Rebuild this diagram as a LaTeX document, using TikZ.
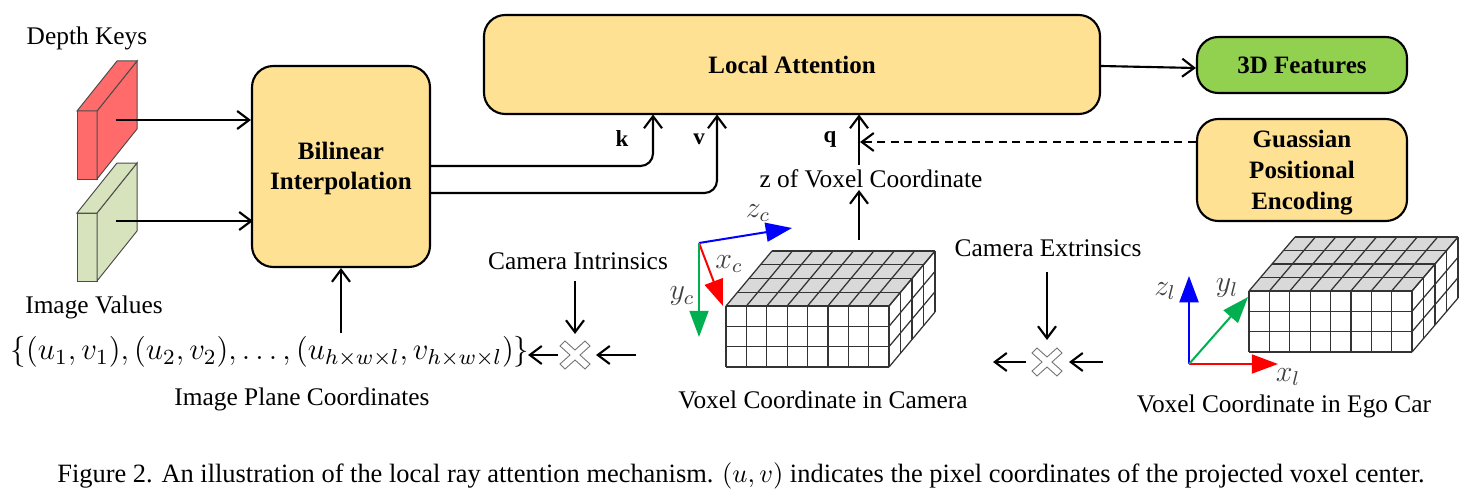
\RequirePackage{fix-cm}
\documentclass[tikz,border=0pt]{standalone}
\usepackage{fontspec}
\usepackage{amsmath}
\setmainfont{Liberation Serif}
\usetikzlibrary{arrows.meta,calc}
\definecolor{boxy}{HTML}{FFE194}
\definecolor{boxg}{HTML}{92D050}
\definecolor{cred}{HTML}{FF6B6B}
\definecolor{cgreen}{HTML}{D7E3BC}
\definecolor{axg}{HTML}{00B050}
\definecolor{topg}{HTML}{D9D9D9}
\tikzset{
  x=0.4pt,y=-0.4pt,
  box/.style={draw=black,line width=0.85pt,fill=boxy,rounded corners=8.5pt,inner sep=0pt},
  boxtext/.style={inner sep=0pt,align=center,font=\fontsize{10}{12}\selectfont\bfseries},
  lbl/.style={inner sep=0pt,align=center,font=\fontsize{10.15}{12}\selectfont},
  arr/.style={draw=black,line width=0.85pt,-{Straight Barb[length=4.8pt,width=7.2pt,line width=0.85pt]}},
  feat/.style={draw=black!70,line width=0.4pt},
  ax/.style={line width=0.8pt,-{Triangle[length=10.5pt,width=7.6pt]}},
  mathl/.style={inner sep=0pt,font=\fontsize{12}{14}\selectfont,text=black!75},
  grid/.style={draw=black!80,line width=0.5pt},
  crossmark/.style={draw=black!55,line width=0.35pt,fill=white}
}
\newcommand{\voxel}[4]{% x0 y0 (front top-left) dx dy of depth
  \def\fx{#1}\def\fy{#2}\def\ox{#3}\def\oy{#4}
  \fill[topg] (\fx,\fy) -- ++(163,0) -- ++(\ox,\oy) -- ++(-163,0) -- cycle;
  \foreach \i in {0,...,8}{\draw[grid] ({\fx+\i*163/8},\fy) -- ++({\ox},{\oy});
    \draw[grid] ({\fx+\i*163/8},\fy) -- ++(0,61);}
  \foreach \j in {1,...,4}{\draw[grid] ({\fx+\j*\ox/4},{\fy+\j*\oy/4}) -- ++(163,0);
    \draw[grid] ({\fx+163+\j*\ox/4},{\fy+\j*\oy/4}) -- ++(0,61);}
  \foreach \j in {0,...,3}{\draw[grid] (\fx,{\fy+\j*61/3}) -- ++(163,0);
    \draw[grid] ({\fx+163},{\fy+\j*61/3}) -- ++({\ox},{\oy});}
}
\newcommand{\cuboid}[2]{% top-of-front y, fill
  \filldraw[feat,fill=#2] (77,#1) -- (97,#1) -- (97,{#1+68}) -- (77,{#1+68}) -- cycle;
  \filldraw[feat,fill=#2] (97,#1) -- (137,{#1-50}) -- (137,{#1+18}) -- (97,{#1+68}) -- cycle;
  \filldraw[feat,fill=#2] (77,#1) -- (117,{#1-50}) -- (137,{#1-50}) -- (97,#1) -- cycle;
}
\newcommand{\crossat}[2]{%
  \filldraw[crossmark,shift={(#1,#2)}] (-10,-14) -- (0,-5) -- (10,-14) -- (15,-9) -- (5,0) -- (15,9) -- (10,14) -- (0,5) -- (-10,14) -- (-15,9) -- (-5,0) -- (-15,-9) -- cycle;
}
\begin{document}
\begin{tikzpicture}
\useasboundingbox (0,0) rectangle (1484,499);
% feature blocks
\cuboid{111}{cred}
\cuboid{213}{cgreen}
\coordinate (redc) at (116,120);
\coordinate (grnc) at (116,221);
% boxes
\node[box,minimum width=71.2pt,minimum height=80.4pt] (bil) at (341,166.5) {};
\node[boxtext] (bilt) at (341,168.5) {Bilinear\\Interpolation};
\node[box,minimum width=246.4pt,minimum height=39.6pt] (att) at (792,64.5) {};
\node[boxtext] (attt) at (792,64.5) {Local Attention};
\node[box,fill=boxg,minimum width=84pt,minimum height=22.4pt] (feat3d) at (1302,65) {};
\node[boxtext] (featt) at (1302,65) {3D Features};
\node[box,minimum width=84pt,minimum height=40.8pt] (gpe) at (1302,170) {};
\node[boxtext] (gpet) at (1302,173) {Guassian\\[0.4pt]Positional\\[0.4pt]Encoding};
% labels
\node[lbl] (dk) at (87,38) {Depth Keys};
\node[lbl] (iv) at (94,307) {Image Values};
\node[lbl] (ipc) at (302,399) {Image Plane Coordinates};
\node[lbl] (vcc) at (823,400) {Voxel Coordinate in Camera};
\node[lbl] (vce) at (1284,406) {Voxel Coordinate in Ego Car};
\node[lbl] (ci) at (578,261) {Camera Intrinsics};
\node[lbl] (ce) at (1048,248) {Camera Extrinsics};
\node[lbl] (zv) at (871,179) {z of Voxel Coordinate};
\node[lbl,font=\bfseries\fontsize{9.2}{11}\selectfont] (k) at (622,139) {k};
\node[lbl,font=\bfseries\fontsize{9.2}{11}\selectfont] (v) at (699,139) {v};
\node[lbl,font=\bfseries\fontsize{9.2}{11}\selectfont] (q) at (830,139) {q};
\node[lbl,font=\fontsize{12.35}{15}\selectfont] (set) at (270,352) {$\{(u_1,v_1),(u_2,v_2),\ldots,(u_{h\times w\times l},v_{h\times w\times l})\}$};
\node[lbl,font=\fontsize{10.57}{12}\selectfont] (cap) at (741,476) {Figure 2. An illustration of the local ray attention mechanism. $(u,v)$ indicates the pixel coordinates of the projected voxel center.};
% connectors
\draw[arr] (redc) -- (redc -| bil.west);
\draw[arr] (grnc) -- ($(grnc -| bil.west)+(2,0)$);
\coordinate (setup) at (341,333);
\draw[arr] (setup) -- (bil.south);
\coordinate (o1) at (430,166);
\coordinate (o2) at (430,193);
\coordinate (i1) at (653,114.5);
\coordinate (i2) at (717,114.5);
\draw[arr,rounded corners=5pt] (o1) -- (o1 -| i1) -- (i1);
\draw[arr,rounded corners=5pt] (o2) -- (o2 -| i2) -- (i2);
\coordinate (i3) at (859,114.5);
\coordinate (vt) at (859,240);
\draw[arr] (859,165) -- (i3);
\draw[arr] (vt) -- (859,190);
\draw[arr,dash pattern=on 3.2pt off 2.2pt] (gpe.west |- 0,142) -- (860,142);
\draw[arr] ($(att.east)+(0,1.5)$) -- ($(feat3d.west)+(0,3)$);
% crosses
\crossat{575}{355}
\crossat{1047}{362}
\draw[arr] (575,281) -- (575,334);
\draw[arr] (636,355) -- (596,355);
\draw[arr] (558,355) -- (528,355);
\draw[arr] (1047,272) -- (1047,340);
\draw[arr] (1103,362) -- (1069,362);
\draw[arr] (1026,362) -- (993,362);
% voxel grids
\voxel{726}{306}{46}{-55}
\voxel{1249}{291}{46}{-54}
% camera axes
\coordinate (co) at (699,243);
\draw[ax,blue] (co) -- (792,228);
\draw[ax,red] (co) -- (723,306);
\draw[ax,axg] (co) -- (699,337);
\node[mathl] (zc) at (758,213) {$z_c$};
\node[mathl] (xc) at (729,264) {$x_c$};
\node[mathl] (yc) at (682,296) {$y_c$};
% ego axes
\coordinate (eo) at (1189,364);
\draw[ax,blue] (eo) -- (1189,276);
\draw[ax,red] (eo) -- (1278,364);
\draw[ax,axg] (eo) -- (1248,297);
\node[mathl] (zl) at (1165,291) {$z_l$};
\node[mathl] (yl) at (1227,288) {$y_l$};
\node[mathl] (xl) at (1288,377) {$x_l$};
\end{tikzpicture}
\end{document}
